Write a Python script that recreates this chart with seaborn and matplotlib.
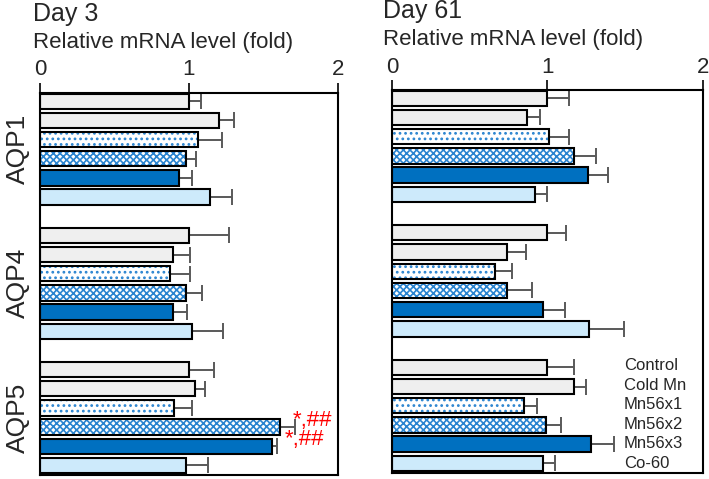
import numpy as np
import pandas as pd
import seaborn as sns
import matplotlib.pyplot as plt
from matplotlib.patches import Rectangle, Patch

treatments = ['Control', 'Cold Mn', 'Mn56x1', 'Mn56x2', 'Mn56x3', 'Co-60']
genes = ['AQP1', 'AQP4', 'AQP5']

# mean fold change, one list per gene (order = treatments)
day3_mean = {
    'AQP1': [1.00, 1.20, 1.06, 0.98, 0.93, 1.14],
    'AQP4': [1.00, 0.89, 0.87, 0.98, 0.89, 1.02],
    'AQP5': [1.00, 1.04, 0.90, 1.61, 1.56, 0.98],
}
day3_err = {
    'AQP1': [0.08, 0.10, 0.16, 0.07, 0.09, 0.15],
    'AQP4': [0.27, 0.12, 0.14, 0.11, 0.10, 0.21],
    'AQP5': [0.17, 0.07, 0.12, 0.10, 0.03, 0.15],
}
day61_mean = {
    'AQP1': [1.00, 0.87, 1.01, 1.17, 1.26, 0.92],
    'AQP4': [1.00, 0.74, 0.66, 0.74, 0.97, 1.27],
    'AQP5': [1.00, 1.17, 0.85, 0.99, 1.28, 0.97],
}
day61_err = {
    'AQP1': [0.14, 0.08, 0.13, 0.14, 0.13, 0.08],
    'AQP4': [0.12, 0.12, 0.11, 0.16, 0.14, 0.22],
    'AQP5': [0.17, 0.08, 0.08, 0.10, 0.15, 0.08],
}
signif = {('AQP5', 'Mn56x2'): '*,##', ('AQP5', 'Mn56x3'): '*,##'}

fill_colors = ['#efefef', '#efefef', '#ffffff', '#ffffff', '#0070c0', '#cdeafb']
hatches = [None, None, '...', 'xxxxx', None, None]
hatch_color = '#2a84d0'
err_color = '#595959'

# 6 bars per gene + one empty slot between genes
n_slot = len(treatments) + 1
slots = list(range(n_slot * len(genes) - 1))


def make_df(means, errs):
    rows = []
    for g, gene in enumerate(genes):
        for i, t in enumerate(treatments):
            rows.append({'gene': gene, 'treatment': t, 'slot': g * n_slot + i,
                         'value': means[gene][i], 'err': errs[gene][i]})
    return pd.DataFrame(rows)


sns.set_theme(style='white')
plt.rcParams['font.family'] = ['Liberation Sans', 'DejaVu Sans']
plt.rcParams['hatch.linewidth'] = 1.2

fig = plt.figure(figsize=(7.09, 4.79), dpi=100)
ax1 = fig.add_axes([0.0564, 0.0084, 0.4203, 0.7975])
ax2 = fig.add_axes([0.5529, 0.0125, 0.4386, 0.7996])


def panel(ax, df, title, show_genes, text_x):
    sns.barplot(data=df, x='value', y='slot', hue='treatment', order=slots,
                hue_order=treatments, palette=fill_colors, saturation=1,
                dodge=False, orient='h', errorbar=None, width=0.8,
                edgecolor='black', linewidth=1.5, legend=False, ax=ax)
    # hatched bars: blue hatch, black outline drawn on top
    for cont, h in zip(ax.containers, hatches):
        if h is None:
            continue
        for bar in cont:
            bar.set_hatch(h)
            bar.set_edgecolor(hatch_color)
            bar.set_linewidth(0)
            ax.add_patch(Rectangle(bar.get_xy(), bar.get_width(), bar.get_height(),
                                   fill=False, edgecolor='black', linewidth=1.5,
                                   zorder=bar.get_zorder() + 0.1))
    ax.errorbar(df['value'], df['slot'], xerr=[np.zeros(len(df)), df['err']],
                fmt='none', ecolor=err_color, elinewidth=1.4, capsize=6,
                capthick=1.4, zorder=0.5)
    if show_genes:
        for (gene, t), txt in signif.items():
            r = df[(df['gene'] == gene) & (df['treatment'] == t)].iloc[0]
            ax.annotate(txt, (r['value'], r['slot']), xytext=(9, 5),
                        textcoords='offset points', color='red', fontsize=16,
                        va='center', ha='left')
    ax.set_xlim(0, 2)
    ax.set_ylim(len(slots) - 0.5, -0.43)
    ax.set_xticks([0, 1, 2])
    ax.xaxis.tick_top()
    ax.xaxis.set_label_position('top')
    ax.tick_params(axis='x', direction='out', length=7, width=1.2,
                   color='black', pad=2, labelsize=16, top=True, bottom=False)
    ax.set_xlabel('Relative mRNA level (fold)', loc='left', fontsize=16, labelpad=8)
    ax.set_title(title, loc='left', fontsize=18, pad=8)
    ax.xaxis.label.set_x(text_x)
    ax._left_title.set_x(text_x)
    if show_genes:
        ax.set_yticks([n_slot * g + 2.5 for g in range(len(genes))], genes,
                      rotation=90, va='center', fontsize=19)
        ax.tick_params(axis='y', length=0, pad=7)
    else:
        ax.set_yticks([])
    ax.set_ylabel('')
    for s in ax.spines.values():
        s.set_visible(True)
        s.set_color('black')
        s.set_linewidth(1.5)


panel(ax1, make_df(day3_mean, day3_err), 'Day 3', True, -0.023)
panel(ax2, make_df(day61_mean, day61_err), 'Day 61', False, -0.028)

handles = [Patch(visible=False) for _ in treatments]
ax2.legend(handles, treatments, loc='upper left', bbox_to_anchor=(0.745, 0.30),
           handlelength=0, handletextpad=0, borderpad=0, borderaxespad=0,
           labelspacing=0.27, frameon=False, fontsize=12)

fig.savefig('out.png', dpi=100)
